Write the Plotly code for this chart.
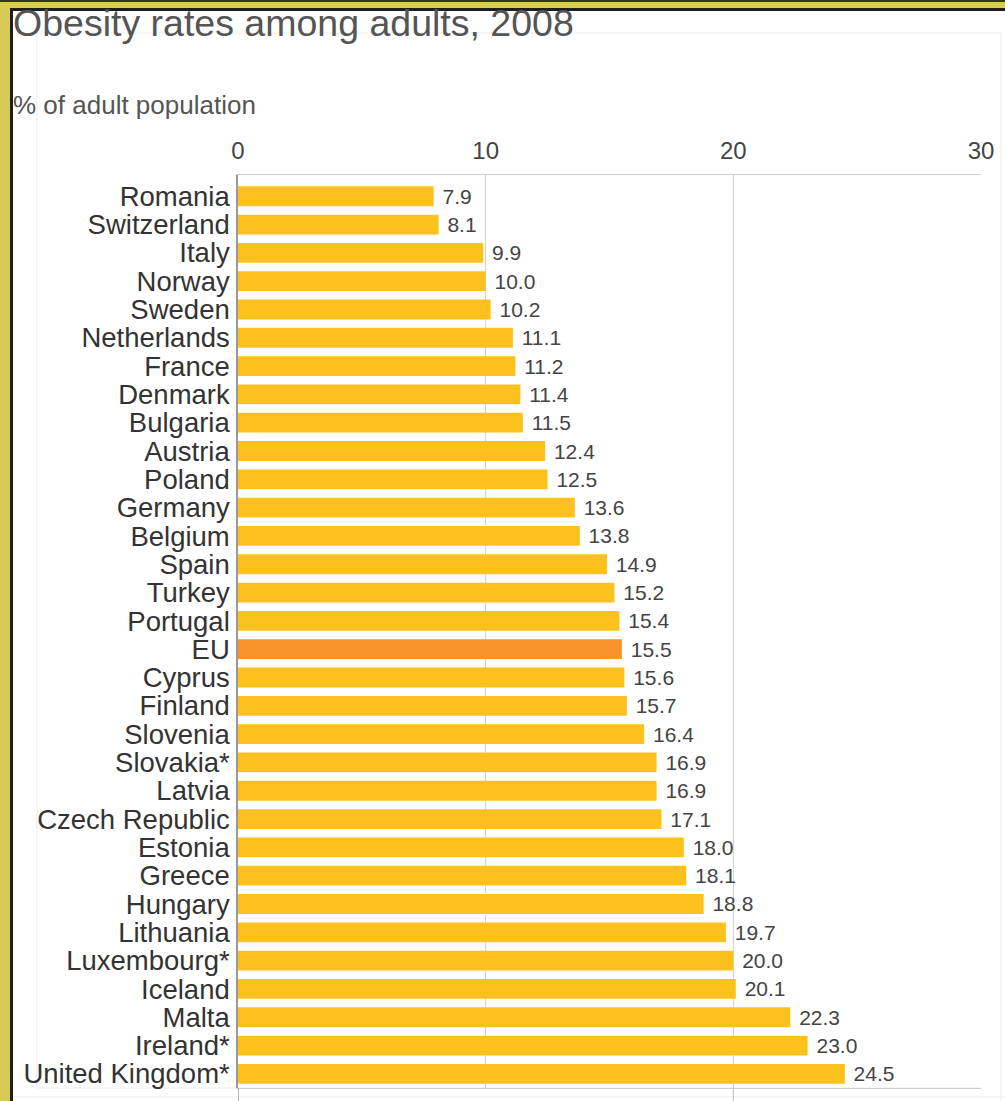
import plotly.graph_objects as go

countries = ["Romania", "Switzerland", "Italy", "Norway", "Sweden", "Netherlands", "France",
             "Denmark", "Bulgaria", "Austria", "Poland", "Germany", "Belgium", "Spain", "Turkey",
             "Portugal", "EU", "Cyprus", "Finland", "Slovenia", "Slovakia*", "Latvia",
             "Czech Republic", "Estonia", "Greece", "Hungary", "Lithuania", "Luxembourg*",
             "Iceland", "Malta", "Ireland*", "United Kingdom*"]
values = [7.9, 8.1, 9.9, 10.0, 10.2, 11.1, 11.2, 11.4, 11.5, 12.4, 12.5, 13.6, 13.8, 14.9, 15.2,
          15.4, 15.5, 15.6, 15.7, 16.4, 16.9, 16.9, 17.1, 18.0, 18.1, 18.8, 19.7, 20.0, 20.1,
          22.3, 23.0, 24.5]
x_ticks = [0, 10, 20, 30]
title_text = "Obesity rates among adults, 2008"
subtitle_text = "% of adult population"

W, H = 1005, 1101
L, R, T, B = 238, 24, 175, 13
PW, PH = W - L - R, H - T - B


def px(x):
    return (x - L) / PW


def py(y):
    return (H - B - y) / PH


FONT = "Liberation Sans, Arial, sans-serif"
YELLOW = "#FDC11E"
ORANGE = "#F7932A"
colors = [ORANGE if c == "EU" else YELLOW for c in countries]

fig = go.Figure(go.Bar(
    x=values, y=countries, orientation="h",
    marker=dict(color=colors, line=dict(width=0)),
    text=["\u00a0" + f"{v:.1f}" for v in values],
    textposition="outside", constraintext="none", cliponaxis=False,
    textfont=dict(family=FONT, size=21, color="#444"),
    width=0.7, hoverinfo="x+y",
))

shapes = []
# background frame
shapes.append(dict(type="rect", xref="paper", yref="paper", x0=px(0), x1=px(W), y0=py(H), y1=py(0),
                   fillcolor="#D6CB55", line=dict(width=0), layer="below"))
shapes.append(dict(type="rect", xref="paper", yref="paper", x0=px(10), x1=px(W), y0=py(H), y1=py(8),
                   fillcolor="#1e1e1e", line=dict(width=0), layer="below"))
shapes.append(dict(type="rect", xref="paper", yref="paper", x0=px(13), x1=px(W), y0=py(H), y1=py(11),
                   fillcolor="white", line=dict(width=0), layer="below"))
shapes.append(dict(type="rect", xref="paper", yref="paper", x0=px(0), x1=px(W), y0=py(2), y1=py(0),
                   fillcolor="#333", line=dict(width=0), layer="below"))
# faint frame lines
for (x0, y0, x1, y1) in [(1001, 33, 1001, H), (30, 33, 1001, 33), (37, 33, 37, 1088),
                         (37, 1088, 981, 1088), (13, 1097, 1005, 1097)]:
    shapes.append(dict(type="line", xref="paper", yref="paper", x0=px(x0), x1=px(x1),
                       y0=py(y0), y1=py(y1), line=dict(color="#ececec", width=1), layer="below"))
# axis lines extending below the plot
for xv in [0, 20]:
    shapes.append(dict(type="line", xref="x", yref="paper", x0=xv, x1=xv, y0=py(1088), y1=py(H),
                       line=dict(color="#bbbbbb" if xv else "#999999", width=1.5 if xv == 0 else 1)))

fig.update_layout(
    width=W, height=H,
    margin=dict(l=L, r=R, t=T, b=B, pad=0),
    paper_bgcolor="white", plot_bgcolor="white",
    showlegend=False,
    shapes=shapes,
    font=dict(family=FONT),
    xaxis=dict(range=[0, 30], side="top", tickvals=x_ticks, ticktext=[str(t) for t in x_ticks],
               showgrid=True, gridcolor="#d4d4d4", gridwidth=1, zeroline=False,
               showline=True, mirror=True, linecolor="#d0d0d0", linewidth=1,
               tickfont=dict(family=FONT, size=24, color="#444"), ticks="", ticklabelstandoff=5,
               fixedrange=True),
    yaxis=dict(type="category", range=[31.5, -0.75], tickmode="array", tickvals=countries,
               showgrid=False, zeroline=False, showline=True, linecolor="#999999", linewidth=1.5,
               tickfont=dict(family=FONT, size=27.5, color="#333"), ticks="", ticklabelstandoff=1,
               fixedrange=True),
    annotations=[
        dict(text=title_text, xref="paper", yref="paper", x=px(11), y=py(23), xanchor="left",
             yanchor="middle", showarrow=False, font=dict(family=FONT, size=37.5, color="#555")),
        dict(text=subtitle_text, xref="paper", yref="paper", x=px(11), y=py(105), xanchor="left",
             yanchor="middle", showarrow=False, font=dict(family=FONT, size=26, color="#555")),
    ],
)

fig.write_html("out.html")
